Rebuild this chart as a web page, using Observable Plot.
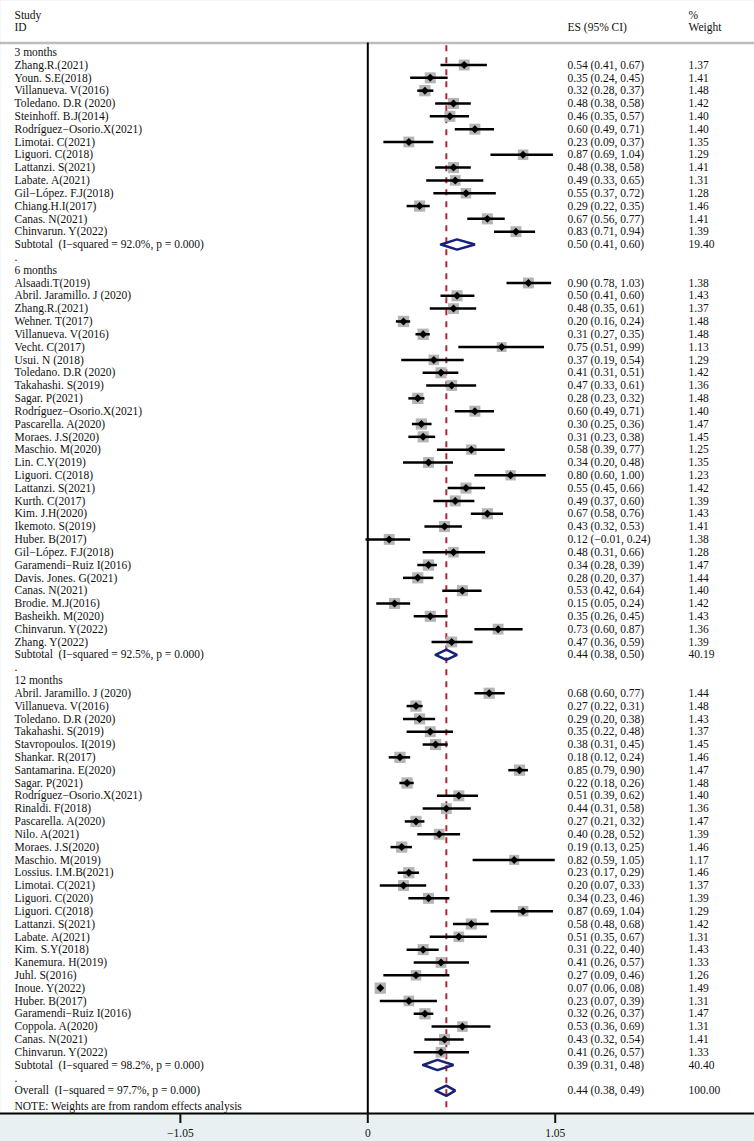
<!DOCTYPE html>
<html>
<head>
<meta charset="utf-8">
<script src="https://cdn.jsdelivr.net/npm/d3@7"></script>
<script src="https://cdn.jsdelivr.net/npm/@observablehq/plot@0.6"></script>
<style>
  body { margin: 0; background: #fff; }
  svg text { white-space: pre; }
</style>
</head>
<body>
<div id="chart"></div>
<script>
// [study, ES, lower, upper, weight]
const months3 = [
  ["Zhang.R.(2021)", 0.54, 0.41, 0.67, 1.37],
  ["Youn. S.E(2018)", 0.35, 0.24, 0.45, 1.41],
  ["Villanueva. V(2016)", 0.32, 0.28, 0.37, 1.48],
  ["Toledano. D.R (2020)", 0.48, 0.38, 0.58, 1.42],
  ["Steinhoff. B.J(2014)", 0.46, 0.35, 0.57, 1.40],
  ["Rodríguez−Osorio.X(2021)", 0.60, 0.49, 0.71, 1.40],
  ["Limotai. C(2021)", 0.23, 0.09, 0.37, 1.35],
  ["Liguori. C(2018)", 0.87, 0.69, 1.04, 1.29],
  ["Lattanzi. S(2021)", 0.48, 0.38, 0.58, 1.41],
  ["Labate. A(2021)", 0.49, 0.33, 0.65, 1.31],
  ["Gil−López. F.J(2018)", 0.55, 0.37, 0.72, 1.28],
  ["Chiang.H.I(2017)", 0.29, 0.22, 0.35, 1.46],
  ["Canas. N(2021)", 0.67, 0.56, 0.77, 1.41],
  ["Chinvarun. Y(2022)", 0.83, 0.71, 0.94, 1.39]
];
const months6 = [
  ["Alsaadi.T(2019)", 0.90, 0.78, 1.03, 1.38],
  ["Abril. Jaramillo. J (2020)", 0.50, 0.41, 0.60, 1.43],
  ["Zhang.R.(2021)", 0.48, 0.35, 0.61, 1.37],
  ["Wehner. T(2017)", 0.20, 0.16, 0.24, 1.48],
  ["Villanueva. V(2016)", 0.31, 0.27, 0.35, 1.48],
  ["Vecht. C(2017)", 0.75, 0.51, 0.99, 1.13],
  ["Usui. N (2018)", 0.37, 0.19, 0.54, 1.29],
  ["Toledano. D.R (2020)", 0.41, 0.31, 0.51, 1.42],
  ["Takahashi. S(2019)", 0.47, 0.33, 0.61, 1.36],
  ["Sagar. P(2021)", 0.28, 0.23, 0.32, 1.48],
  ["Rodríguez−Osorio.X(2021)", 0.60, 0.49, 0.71, 1.40],
  ["Pascarella. A(2020)", 0.30, 0.25, 0.36, 1.47],
  ["Moraes. J.S(2020)", 0.31, 0.23, 0.38, 1.45],
  ["Maschio. M(2020)", 0.58, 0.39, 0.77, 1.25],
  ["Lin. C.Y(2019)", 0.34, 0.20, 0.48, 1.35],
  ["Liguori. C(2018)", 0.80, 0.60, 1.00, 1.23],
  ["Lattanzi. S(2021)", 0.55, 0.45, 0.66, 1.42],
  ["Kurth. C(2017)", 0.49, 0.37, 0.60, 1.39],
  ["Kim. J.H(2020)", 0.67, 0.58, 0.76, 1.43],
  ["Ikemoto. S(2019)", 0.43, 0.32, 0.53, 1.41],
  ["Huber. B(2017)", 0.12, -0.01, 0.24, 1.38],
  ["Gil−López. F.J(2018)", 0.48, 0.31, 0.66, 1.28],
  ["Garamendi−Ruiz I(2016)", 0.34, 0.28, 0.39, 1.47],
  ["Davis. Jones. G(2021)", 0.28, 0.20, 0.37, 1.44],
  ["Canas. N(2021)", 0.53, 0.42, 0.64, 1.40],
  ["Brodie. M.J(2016)", 0.15, 0.05, 0.24, 1.42],
  ["Basheikh. M(2020)", 0.35, 0.26, 0.45, 1.43],
  ["Chinvarun. Y(2022)", 0.73, 0.60, 0.87, 1.36],
  ["Zhang. Y(2022)", 0.47, 0.36, 0.59, 1.39]
];
const months12 = [
  ["Abril. Jaramillo. J (2020)", 0.68, 0.60, 0.77, 1.44],
  ["Villanueva. V(2016)", 0.27, 0.22, 0.31, 1.48],
  ["Toledano. D.R (2020)", 0.29, 0.20, 0.38, 1.43],
  ["Takahashi. S(2019)", 0.35, 0.22, 0.48, 1.37],
  ["Stavropoulos. I(2019)", 0.38, 0.31, 0.45, 1.45],
  ["Shankar. R(2017)", 0.18, 0.12, 0.24, 1.46],
  ["Santamarina. E(2020)", 0.85, 0.79, 0.90, 1.47],
  ["Sagar. P(2021)", 0.22, 0.18, 0.26, 1.48],
  ["Rodríguez−Osorio.X(2021)", 0.51, 0.39, 0.62, 1.40],
  ["Rinaldi. F(2018)", 0.44, 0.31, 0.58, 1.36],
  ["Pascarella. A(2020)", 0.27, 0.21, 0.32, 1.47],
  ["Nilo. A(2021)", 0.40, 0.28, 0.52, 1.39],
  ["Moraes. J.S(2020)", 0.19, 0.13, 0.25, 1.46],
  ["Maschio. M(2019)", 0.82, 0.59, 1.05, 1.17],
  ["Lossius. I.M.B(2021)", 0.23, 0.17, 0.29, 1.46],
  ["Limotai. C(2021)", 0.20, 0.07, 0.33, 1.37],
  ["Liguori. C(2020)", 0.34, 0.23, 0.46, 1.39],
  ["Liguori. C(2018)", 0.87, 0.69, 1.04, 1.29],
  ["Lattanzi. S(2021)", 0.58, 0.48, 0.68, 1.42],
  ["Labate. A(2021)", 0.51, 0.35, 0.67, 1.31],
  ["Kim. S.Y(2018)", 0.31, 0.22, 0.40, 1.43],
  ["Kanemura. H(2019)", 0.41, 0.26, 0.57, 1.33],
  ["Juhl. S(2016)", 0.27, 0.09, 0.46, 1.26],
  ["Inoue. Y(2022)", 0.07, 0.06, 0.08, 1.49],
  ["Huber. B(2017)", 0.23, 0.07, 0.39, 1.31],
  ["Garamendi−Ruiz I(2016)", 0.32, 0.26, 0.37, 1.47],
  ["Coppola. A(2020)", 0.53, 0.36, 0.69, 1.31],
  ["Canas. N(2021)", 0.43, 0.32, 0.54, 1.41],
  ["Chinvarun. Y(2022)", 0.41, 0.26, 0.57, 1.33]
];
const groupLabels = ["3 months", "6 months", "12 months"];
// [label, ES, lower, upper, weight]
const subtotals = [
  ["Subtotal  (I−squared = 92.0%, p = 0.000)", 0.50, 0.41, 0.60, 19.40],
  ["Subtotal  (I−squared = 92.5%, p = 0.000)", 0.44, 0.38, 0.50, 40.19],
  ["Subtotal  (I−squared = 98.2%, p = 0.000)", 0.39, 0.31, 0.48, 40.40]
];
const overall = ["Overall  (I−squared = 97.7%, p = 0.000)", 0.44, 0.38, 0.49, 100.00];
const note = "NOTE: Weights are from random effects analysis";
const xTicks = [-1.05, 0, 1.05];

const fmt = v => (v < 0 ? "−" : "") + Math.abs(v).toFixed(2);

// Build rows
const rows = [];
const studies = [];
const pooled = [];
let r = 0;
[months3, months6, months12].forEach((grp, gi) => {
  rows.push({row: r++, label: groupLabels[gi]});
  grp.forEach(([name, es, lo, hi, w]) => {
    const d = {row: r++, label: name, es, lo, hi, w,
      ci: `${fmt(es)} (${fmt(lo)}, ${fmt(hi)})`, wt: w.toFixed(2)};
    rows.push(d); studies.push(d);
  });
  const [lab, es, lo, hi, w] = subtotals[gi];
  const s = {row: r++, label: lab, es, lo, hi, w,
    ci: `${fmt(es)} (${fmt(lo)}, ${fmt(hi)})`, wt: w.toFixed(2)};
  rows.push(s); pooled.push(s);
  rows.push({row: r++, label: "."});
});
{
  const [lab, es, lo, hi, w] = overall;
  const o = {row: r++, label: lab, es, lo, hi, w,
    ci: `${fmt(es)} (${fmt(lo)}, ${fmt(hi)})`, wt: w.toFixed(2)};
  rows.push(o); pooled.push(o);
}
rows.push({row: r - 1 + 1.25, label: note});

const dh = 0.4;
const diamondPts = pooled.flatMap((p, i) => [
  {id: i, x: p.lo, y: p.row},
  {id: i, x: p.es, y: p.row - dh},
  {id: i, x: p.hi, y: p.row},
  {id: i, x: p.es, y: p.row + dh},
  {id: i, x: p.lo, y: p.row}
]);

const headerLineRow = -0.72;
const yTop = -4.033, yBottom = 82.78;
const ES = overall[1];

const chart = Plot.plot({
  width: 754,
  height: 1141,
  marginTop: 0,
  marginRight: 0,
  marginLeft: 0,
  marginBottom: 28,
  x: {domain: [-2.0577, 2.1664]},
  y: {domain: [yTop, yBottom], reverse: true, axis: null},
  r: {domain: [0, 1.49], range: [0, 6.4]},
  style: {fontFamily: "'Liberation Serif', 'Times New Roman', serif", fontSize: "11.5px", background: "#e8f0f2", color: "#111"},
  marks: [
    Plot.frame({fill: "white", stroke: "none"}),
    Plot.ruleY([headerLineRow], {stroke: "#bdbdbd", strokeWidth: 2.5}),
    Plot.ruleX([0], {y1: headerLineRow, y2: yBottom, stroke: "black", strokeWidth: 2}),
    Plot.ruleX([ES], {y1: -0.5, y2: yBottom, stroke: "#b3263a", strokeWidth: 2, strokeDasharray: "6,6"}),
    Plot.dot(studies, {x: "es", y: "row", r: "w", symbol: "square", fill: "#b5b5b5"}),
    Plot.ruleY(studies, {y: "row", x1: "lo", x2: "hi", stroke: "black", strokeWidth: 2.5}),
    Plot.dot(studies, {x: "es", y: "row", r: 3.6, symbol: "diamond2", fill: "black"}),
    Plot.line(diamondPts, {x: "x", y: "y", z: "id", stroke: "#16217a", strokeWidth: 2.5, strokeLinejoin: "miter"}),
    Plot.frame({anchor: "bottom", stroke: "black", strokeWidth: 2}),
    Plot.axisX({ticks: xTicks, tickFormat: d => d === 0 ? "0" : fmt(d), tickSize: 10, tickPadding: 5, strokeWidth: 2, label: null, fontSize: 11.5, fill: "#111"}),
    // left column text
    Plot.text(rows, {y: "row", text: "label", frameAnchor: "left", dx: 14, textAnchor: "start", fill: "#111"}),
    Plot.text(rows.filter(d => d.ci), {y: "row", text: "ci", frameAnchor: "left", dx: 567, textAnchor: "start", fill: "#111"}),
    Plot.text(rows.filter(d => d.wt), {y: "row", text: "wt", frameAnchor: "left", dx: 688, textAnchor: "start", fill: "#111"}),
    // header
    Plot.text(["Study"], {y: [-2.9], text: d => d, frameAnchor: "left", dx: 14, textAnchor: "start", fill: "#111"}),
    Plot.text(["ID"], {y: [-1.97], text: d => d, frameAnchor: "left", dx: 14, textAnchor: "start", fill: "#111"}),
    Plot.text(["ES (95% CI)"], {y: [-1.97], text: d => d, frameAnchor: "left", dx: 567, textAnchor: "start", fill: "#111"}),
    Plot.text(["%"], {y: [-2.9], text: d => d, frameAnchor: "left", dx: 688, textAnchor: "start", fill: "#111"}),
    Plot.text(["Weight"], {y: [-1.97], text: d => d, frameAnchor: "left", dx: 688, textAnchor: "start", fill: "#111"})
  ]
});
document.getElementById("chart").append(chart);
</script>
</body>
</html>
